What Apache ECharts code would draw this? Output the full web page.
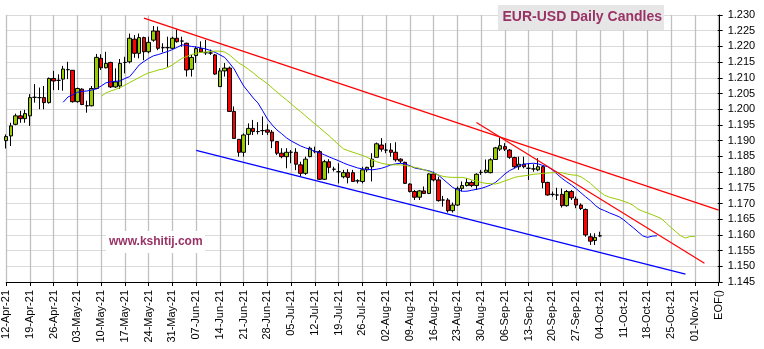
<!DOCTYPE html>
<html>
<head>
<meta charset="utf-8">
<script src="https://cdn.jsdelivr.net/npm/echarts@6/dist/echarts.min.js"></script>
<style>
  html, body { margin: 0; padding: 0; background: #fff; }
  #chart { width: 764px; height: 349px; }
</style>
</head>
<body>
<div id="chart"></div>
<script>
// EUR-USD daily sessions, 12-Apr-21 .. 04-Oct-21 (one entry per weekday)
const opens = [
  1.1900,1.1915,1.1952,1.1979,1.1970,
  1.1979,1.2038,1.2037,1.2037,1.2021,
  1.2098,1.2092,1.2096,1.2126,1.2124,
  1.2024,1.2064,1.2011,1.2011,1.2066,
  1.2162,1.2132,1.2149,1.2071,1.2074,
  1.2149,1.2151,1.2223,1.2178,1.2228,
  1.2183,1.2220,1.2249,1.2196,1.2196,
  1.2194,1.2226,1.2217,1.2210,1.2127,
  1.2171,1.2193,1.2180,1.2179,1.2173,
  1.2072,1.2122,1.2131,1.1993,1.1904,
  1.1863,1.1920,1.1939,1.1929,1.1932,
  1.1934,1.1927,1.1897,1.1860,1.1849,
  1.1863,1.1863,1.1823,1.1796,1.1849,
  1.1865,1.1865,1.1777,1.1833,1.1809,
  1.1801,1.1785,1.1798,1.1798,1.1772,
  1.1770,1.1807,1.1817,1.1847,1.1886,
  1.1870,1.1870,1.1863,1.1841,1.1831,
  1.1762,1.1738,1.1720,1.1740,1.1732,
  1.1794,1.1775,1.1711,1.1711,1.1677,
  1.1695,1.1748,1.1757,1.1767,1.1757,
  1.1799,1.1799,1.1798,1.1840,1.1873,
  1.1881,1.1870,1.1846,1.1817,1.1825,
  1.1812,1.1810,1.1807,1.1817,1.1767,
  1.1729,1.1727,1.1729,1.1693,1.1738,
  1.1714,1.1695,1.1681,1.1594,1.1582,
  1.1597
];
const closes = [
  1.1913,1.1947,1.1979,1.1970,1.1986,
  1.2037,1.2038,1.2037,1.2021,1.2098,
  1.2090,1.2092,1.2128,1.2126,1.2024,
  1.2066,1.2015,1.2011,1.2066,1.2165,
  1.2132,1.2146,1.2071,1.2087,1.2146,
  1.2149,1.2226,1.2178,1.2228,1.2183,
  1.2213,1.2249,1.2194,1.2196,1.2196,
  1.2226,1.2215,1.2217,1.2125,1.2165,
  1.2193,1.2182,1.2180,1.2179,1.2112,
  1.2122,1.2131,1.1993,1.1907,1.1863,
  1.1918,1.1939,1.1929,1.1929,1.1932,
  1.1927,1.1899,1.1860,1.1849,1.1863,
  1.1863,1.1825,1.1796,1.1841,1.1876,
  1.1865,1.1777,1.1833,1.1815,1.1809,
  1.1801,1.1798,1.1783,1.1770,1.1772,
  1.1807,1.1815,1.1841,1.1890,1.1873,
  1.1870,1.1863,1.1839,1.1835,1.1764,
  1.1738,1.1720,1.1740,1.1732,1.1794,
  1.1775,1.1709,1.1711,1.1677,1.1695,
  1.1748,1.1757,1.1767,1.1757,1.1793,
  1.1799,1.1806,1.1839,1.1877,1.1884,
  1.1873,1.1847,1.1817,1.1825,1.1817,
  1.1812,1.1810,1.1817,1.1767,1.1727,
  1.1729,1.1727,1.1693,1.1738,1.1718,
  1.1695,1.1684,1.1600,1.1580,1.1592,
  1.1597
];
const lows = [
  1.1875,1.1883,1.1949,1.1957,1.1957,
  1.1947,1.2021,1.2000,1.2000,1.2018,
  1.2061,1.2061,1.2059,1.2096,1.2021,
  1.2021,1.2013,1.1989,1.2009,1.2064,
  1.2125,1.2130,1.2068,1.2068,1.2065,
  1.2114,1.2146,1.2164,1.2162,1.2156,
  1.2178,1.2215,1.2188,1.2181,1.2135,
  1.2190,1.2212,1.2199,1.2104,1.2104,
  1.2147,1.2179,1.2173,1.2173,1.2110,
  1.2072,1.2104,1.1993,1.1907,1.1849,
  1.1849,1.1886,1.1918,1.1920,1.1918,
  1.1918,1.1876,1.1854,1.1844,1.1812,
  1.1828,1.1806,1.1785,1.1791,1.1847,
  1.1860,1.1775,1.1775,1.1796,1.1802,
  1.1764,1.1780,1.1764,1.1770,1.1764,
  1.1764,1.1800,1.1770,1.1847,1.1865,
  1.1860,1.1849,1.1833,1.1828,1.1762,
  1.1735,1.1711,1.1711,1.1730,1.1730,
  1.1770,1.1706,1.1690,1.1671,1.1671,
  1.1692,1.1738,1.1754,1.1752,1.1743,
  1.1791,1.1796,1.1796,1.1839,1.1867,
  1.1867,1.1842,1.1812,1.1807,1.1812,
  1.1775,1.1801,1.1803,1.1748,1.1725,
  1.1722,1.1711,1.1687,1.1690,1.1711,
  1.1685,1.1679,1.1594,1.1568,1.1568,
  1.1594
];
const highs = [
  1.1920,1.1957,1.1986,1.1995,1.1998,
  1.2048,1.2080,1.2069,1.2074,1.2101,
  1.2122,1.2111,1.2138,1.2151,1.2124,
  1.2069,1.2067,1.2027,1.2074,1.2176,
  1.2175,1.2183,1.2151,1.2130,1.2160,
  1.2167,1.2241,1.2236,1.2241,1.2231,
  1.2231,1.2265,1.2263,1.2210,1.2231,
  1.2231,1.2254,1.2231,1.2212,1.2173,
  1.2200,1.2216,1.2221,1.2190,1.2176,
  1.2131,1.2147,1.2136,1.2009,1.1904,
  1.1923,1.1955,1.1966,1.1959,1.1977,
  1.1952,1.1934,1.1899,1.1876,1.1876,
  1.1870,1.1876,1.1833,1.1849,1.1881,
  1.1881,1.1870,1.1839,1.1841,1.1817,
  1.1828,1.1807,1.1809,1.1807,1.1777,
  1.1817,1.1817,1.1860,1.1894,1.1908,
  1.1892,1.1892,1.1895,1.1844,1.1833,
  1.1764,1.1743,1.1743,1.1754,1.1796,
  1.1801,1.1785,1.1724,1.1717,1.1703,
  1.1754,1.1770,1.1780,1.1773,1.1796,
  1.1807,1.1840,1.1844,1.1880,1.1910,
  1.1892,1.1873,1.1849,1.1849,1.1849,
  1.1828,1.1825,1.1844,1.1820,1.1769,
  1.1738,1.1750,1.1748,1.1743,1.1743,
  1.1722,1.1700,1.1684,1.1605,1.1605,
  1.1610
];

// Forward-displaced averages (blue = fast, green = slow); first session index of each
const fastAvgStart = 12;
const fastAvg = [
  1.2022,1.2039,1.2046,1.2054,1.2057,1.2058,1.2061,1.2065,
  1.2074,1.2084,1.2087,1.2089,1.2090,1.2098,1.2104,1.2122,1.2141,1.2152,
  1.2162,1.2170,1.2174,1.2179,1.2184,1.2190,1.2197,1.2205,1.2203,1.2200,
  1.2198,1.2195,1.2192,1.2187,1.2181,1.2173,1.2165,1.2147,1.2128,1.2100,
  1.2074,1.2055,1.2036,1.2020,1.1995,1.1969,1.1950,1.1934,1.1922,1.1909,
  1.1899,1.1891,1.1883,1.1877,1.1872,1.1866,1.1861,1.1855,1.1848,1.1842,
  1.1836,1.1829,1.1823,1.1818,1.1813,1.1810,1.1809,1.1807,1.1809,1.1812,
  1.1817,1.1823,1.1826,1.1828,1.1826,1.1820,1.1813,1.1810,1.1807,1.1804,
  1.1798,1.1790,1.1777,1.1764,1.1751,1.1744,1.1739,1.1739,1.1742,1.1745,
  1.1748,1.1753,1.1759,1.1767,1.1780,1.1794,1.1805,1.1812,1.1820,1.1825,
  1.1827,1.1828,1.1826,1.1821,1.1817,1.1807,1.1793,1.1780,1.1769,1.1759,
  1.1747,1.1734,1.1721,1.1709,1.1694,1.1683,1.1677,1.1670,1.1664,1.1658,
  1.1648,1.1635,1.1623,1.1610,1.1597,1.1592,1.1596,1.1597
];
const slowAvgStart = 20;
const slowAvg = [
  1.2041,1.2052,1.2058,1.2063,1.2069,1.2077,1.2085,1.2093,1.2101,1.2109,
  1.2116,1.2120,1.2125,1.2128,1.2133,1.2141,1.2152,1.2162,1.2168,1.2174,
  1.2178,1.2181,1.2182,1.2184,1.2185,1.2185,1.2182,1.2173,1.2160,1.2147,
  1.2138,1.2127,1.2116,1.2103,1.2092,1.2081,1.2068,1.2055,1.2042,1.2030,
  1.2017,1.2004,1.1992,1.1979,1.1966,1.1953,1.1941,1.1928,1.1915,1.1901,
  1.1887,1.1874,1.1868,1.1863,1.1858,1.1853,1.1847,1.1839,1.1833,1.1828,
  1.1825,1.1823,1.1823,1.1823,1.1821,1.1818,1.1815,1.1812,1.1807,1.1802,
  1.1796,1.1791,1.1786,1.1784,1.1783,1.1783,1.1783,1.1780,1.1775,1.1771,
  1.1767,1.1764,1.1763,1.1762,1.1766,1.1772,1.1777,1.1783,1.1786,1.1788,
  1.1790,1.1793,1.1794,1.1796,1.1797,1.1798,1.1798,1.1798,1.1794,1.1791,
  1.1790,1.1785,1.1775,1.1764,1.1750,1.1737,1.1726,1.1720,1.1716,1.1712,
  1.1707,1.1702,1.1694,1.1682,1.1675,1.1670,1.1664,1.1658,1.1651,1.1637,
  1.1623,1.1610,1.1597,1.1590,1.1595,1.1595
];

// Hand-drawn trend lines: [session index, price] end points
const upperTrend   = [[29, 1.2290], [150, 1.1679]];
const steepTrend   = [[99, 1.1958], [147, 1.1510]];
const lowerTrend   = [[40, 1.1869], [143, 1.1475]];

// Axis setup
const firstSession = Date.UTC(2021, 3, 12);
const sessionsOnAxis = 150;
const endMarker = 'EOF()';
const monthNames = ['Jan','Feb','Mar','Apr','May','Jun','Jul','Aug','Sep','Oct','Nov','Dec'];
const priceMin = 1.145, priceMax = 1.230, priceStep = 0.005;

function fmtDay(d) {
  const dd = String(d.getUTCDate()).padStart(2, '0');
  const yy = String(d.getUTCFullYear()).slice(2);
  return dd + '-' + monthNames[d.getUTCMonth()] + '-' + yy;
}
const categories = [];
for (let d = new Date(firstSession); categories.length < sessionsOnAxis; d.setUTCDate(d.getUTCDate() + 1)) {
  const wd = d.getUTCDay();
  if (wd !== 0 && wd !== 6) categories.push(fmtDay(d));
}
categories.push(endMarker);

const candles = opens.map((o, i) => [o, closes[i], lows[i], highs[i]]);
const fastLine = fastAvg.map((v, k) => [fastAvgStart + k, v]);
const slowLine = slowAvg.map((v, k) => [slowAvgStart + k, v]);
const isWeekStart = (idx) => idx % 5 === 0;

const FONT = '"Liberation Sans", Arial, sans-serif';
const chart = echarts.init(document.getElementById('chart'));

function trend(data, color, width) {
  return {
    type: 'line', data, symbol: 'none', silent: true,
    lineStyle: { color, width }, z: 4
  };
}

chart.setOption({
  animation: false,
  backgroundColor: '#fff',
  grid: { left: 6.2, right: 45.3, top: 15, bottom: 67 },
  xAxis: {
    type: 'category',
    data: categories,
    boundaryGap: false,
    axisLine: { lineStyle: { color: '#000', width: 1 } },
    axisTick: { interval: isWeekStart, length: 4, lineStyle: { color: '#000' } },
    axisLabel: {
      interval: isWeekStart, rotate: 90, margin: 8,
      fontFamily: FONT, fontSize: 11, color: '#000'
    },
    splitLine: { show: true, interval: isWeekStart, lineStyle: { color: '#c0c0c0', width: 1.3 } }
  },
  yAxis: [{
    type: 'value', position: 'right', scale: true,
    min: priceMin, max: priceMax, interval: priceStep, offset: 1,
    axisLine: { show: true, lineStyle: { color: '#000' } },
    axisTick: { show: true, length: 3, lineStyle: { color: '#000' } },
    axisLabel: {
      margin: 8, fontFamily: FONT, fontSize: 11, color: '#000',
      formatter: (v) => v.toFixed(3)
    },
    splitLine: { show: true, lineStyle: { color: '#dadada', width: 1 } }
  }, {
    type: 'value', position: 'right', scale: true,
    min: priceMin, max: priceMax, interval: priceStep, offset: 1,
    axisLine: { show: false },
    axisTick: { show: true, inside: true, length: 2, lineStyle: { color: '#000' } },
    axisLabel: { show: false },
    splitLine: { show: false }
  }],
  series: [
    {
      type: 'candlestick',
      data: candles,
      barWidth: 4,
      itemStyle: {
        color: '#99cc00', color0: '#ff0000',
        borderColor: '#000', borderColor0: '#000', borderColorDoji: '#000',
        borderWidth: 1
      },
      z: 2
    },
    { type: 'line', data: fastLine, symbol: 'none', silent: true, lineStyle: { color: '#0000ff', width: 1 }, z: 3 },
    { type: 'line', data: slowLine, symbol: 'none', silent: true, lineStyle: { color: '#99cc00', width: 1 }, z: 3 },
    trend(upperTrend, '#ff0000', 1.2),
    trend(steepTrend, '#ff0000', 1.2),
    trend(lowerTrend, '#0000ff', 1.2)
  ],
  graphic: [
    { type: 'rect', shape: { x: 498, y: 5, width: 166, height: 25 }, style: { fill: '#e6e6e6' }, z: 100 },
    { type: 'text', x: 502.5, y: 17.5, z: 101,
      style: { text: 'EUR-USD Daily Candles', fontFamily: FONT, fontWeight: 'bold', fontSize: 14, fill: '#993366', verticalAlign: 'middle' } },
    { type: 'rect', shape: { x: 106, y: 231, width: 99, height: 22 }, style: { fill: '#fff' }, z: 100 },
    { type: 'text', x: 109, y: 242, z: 101,
      style: { text: 'www.kshitij.com', fontFamily: FONT, fontWeight: 'bold', fontSize: 12, fill: '#993366', verticalAlign: 'middle' } }
  ]
});
</script>
</body>
</html>
